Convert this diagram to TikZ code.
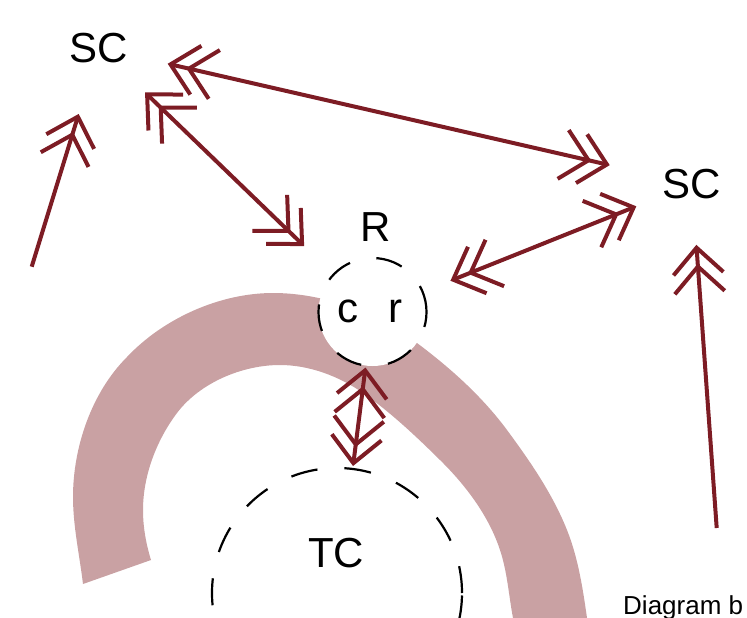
\documentclass[tikz,border=0pt]{standalone}
\usepackage{fontspec}
\setmainfont{Liberation Sans}
\usetikzlibrary{arrows.meta}
\definecolor{arrowred}{RGB}{125,28,36}
\definecolor{bandpink}{RGB}{201,161,163}
\tikzset{
  chev/.tip={Straight Barb[length=26pt,width=50pt,sep=-12pt]Straight Barb[length=26pt,width=50pt]},
  con/.style={draw=arrowred, line width=4pt},
  bothway/.style={con, arrows={{chev}-{chev}}},
  oneway/.style={con, arrows={-{chev}}},
  lbl/.style={inner sep=0pt, font=\fontsize{42}{50}\selectfont},
  dashcirc/.style={circle, draw=black, line width=2.2pt, dash pattern=on 27pt off 27pt, inner sep=0pt},
}
\begin{document}
\begin{tikzpicture}[x=1pt,y=-1pt]
\useasboundingbox (0,0) rectangle (747,618);
\clip (0,0) rectangle (747,618);
% band
\fill[bandpink] (83,584) .. controls (79.5,555) and (73,526.2) .. (73,497)
  .. controls (73,447) and (91.6,392.4) .. (127,357)
  .. controls (163.4,318.3) and (219.9,293) .. (273,293)
  .. controls (323.8,293) and (376.4,312.5) .. (417,343)
  .. controls (450.4,368) and (482.2,396.5) .. (507,430)
  .. controls (530.1,461.3) and (552.6,493.9) .. (567,530)
  .. controls (578.1,557.8) and (582.8,588.3) .. (587,618)
  -- (592,660) -- (518,660) -- (513,618)
  .. controls (508.7,595.3) and (507.3,571.9) .. (500,550)
  .. controls (488.7,515.7) and (465.7,485.3) .. (440,460)
  .. controls (415.8,436.1) and (390.8,412.5) .. (363,393)
  .. controls (339.1,376.2) and (309.2,365) .. (280,365)
  .. controls (242.1,365) and (199.8,382.8) .. (177,413)
  .. controls (156.4,440.4) and (143,475.7) .. (143,510)
  .. controls (143,526.9) and (146,543.9) .. (151,560)
  -- cycle;
% circles
\node[dashcirc, fill=white, minimum size=108pt] (rc) at (372.5,312) {};
\node[dashcirc, minimum size=250pt] (tc) at (337,593) {};
% labels
\node[lbl] (scL) at (99,48) {SC};
\node[lbl] (scR) at (692,184) {SC};
\node[lbl] (Rlab) at (376,227) {R};
\node[lbl] (clab) at (348,311) {c};
\node[lbl] (rlab) at (395,311) {r};
\node[lbl] (tclab) at (336,553) {TC};
\node[anchor=base west, inner sep=0pt, font=\fontsize{26}{30}\selectfont] (credit) at (623,614) {Diagram b};
% free ends
\coordinate (cL) at (31.7,266.7);
\coordinate (cR) at (716.7,528);
% connectors
\draw[bothway, shorten <=64pt, shorten >=95pt] (scL.center) -- (rc.center);
\draw[bothway, shorten <=70.5pt, shorten >=84.4pt] (scL.center) -- (scR.center);
\draw[bothway, shorten <=60pt, shorten >=84pt] (scR.center) -- (rc.center);
\draw[bothway, shorten <=56pt, shorten >=128pt] (rc.center) -- (tc.center);
\draw[oneway, shorten >=69pt] (cL) -- (scL.center);
\draw[oneway, shorten >=61pt] (cR) -- (scR.center);
\end{tikzpicture}
\end{document}
